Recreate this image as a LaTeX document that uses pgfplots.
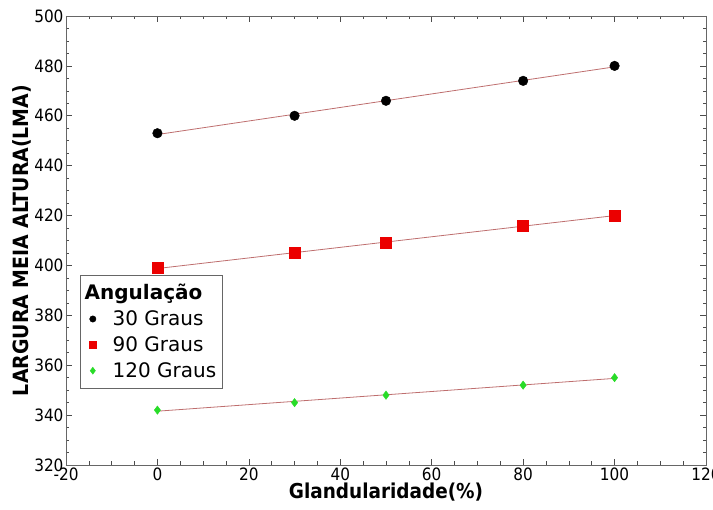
\documentclass[border=0pt]{standalone}
\usepackage{pgfplots}
\usepackage{pgfplotstable}
\pgfplotsset{compat=1.18}
\usepackage{fontspec}
\setmainfont{DejaVu Sans Condensed}
\newfontfamily\legfont{DejaVu Sans}
\definecolor{fitc}{RGB}{190,110,110}
\definecolor{gr}{RGB}{40,220,40}
\definecolor{rd}{RGB}{235,0,0}
\pgfplotstableread{
x y
0 453
30 460
50 466
80 474
100 480
}\ta
\pgfplotstableread{
x y
0 399
30 405
50 409
80 416
100 420
}\tb
\pgfplotstableread{
x y
0 342
30 345
50 348
80 352
100 355
}\tc
\begin{document}
\begin{tikzpicture}[x=1pt,y=1pt]
\begin{axis}[
  scale only axis, width=640pt, height=449pt,
  at={(0,0)}, anchor=south west,
  xmin=-20, xmax=120, ymin=320, ymax=500,
  xtick={-20,0,...,120}, ytick={320,340,...,500},
  minor x tick num=3, minor y tick num=3,
  tick align=inside, ticks=both,
  major tick length=6pt, minor tick length=3.5pt,
  tick style={black!70, line width=0.6pt},
  axis line style={black!60, line width=0.8pt},
  /pgf/number format/assume math mode=true,
  /pgf/number format/1000 sep={},
  tick label style={font=\fontsize{17}{19}\selectfont},
  xticklabel style={yshift=1pt},
  yticklabel style={xshift=1pt},
  xlabel={\textbf{Glandularidade(\%)}},
  ylabel={\textbf{LARGURA MEIA ALTURA(LMA)}},
  xlabel style={font=\fontsize{20.5}{22}\selectfont, yshift=4pt},
  ylabel style={font=\fontsize{21}{23}\selectfont, yshift=-4pt},
  legend style={at={(0.022,0.423)}, anchor=north west, draw=black!60,
    font=\legfont\fontsize{20}{24}\selectfont, row sep=5.5pt, inner ysep=7pt, inner xsep=4pt},
  legend cell align=left,
]
\addlegendimage{empty legend}
\addlegendentry{\hspace{-14pt}\textbf{Angulação}}
\addlegendimage{only marks, mark=*, mark size=3.2pt, black}
\addlegendentry{\hspace{14pt}30 Graus\hspace{6pt}}
\addlegendimage{only marks, mark=square*, mark size=3.8pt, rd}
\addlegendentry{\hspace{14pt}90 Graus}
\addlegendimage{only marks, mark=diamond*, mark size=3.5pt, gr}
\addlegendentry{\hspace{14pt}120 Graus}
\addplot[fitc, line width=0.8pt, forget plot] table[y={create col/linear regression={y=y}}] {\ta};
\addplot[fitc, line width=0.8pt, forget plot] table[y={create col/linear regression={y=y}}] {\tb};
\addplot[fitc, line width=0.8pt, forget plot] table[y={create col/linear regression={y=y}}] {\tc};
\addplot[only marks, mark=*, mark size=4.8pt, black, forget plot] table {\ta};
\addplot[only marks, mark=square*, mark size=5.5pt, rd, forget plot] table {\tb};
\addplot[only marks, mark=diamond*, mark size=4.2pt, gr, forget plot] table {\tc};
\end{axis}
\pgfresetboundingbox
\path[use as bounding box] (-66,-45) rectangle (647,465);
\end{tikzpicture}
\end{document}
